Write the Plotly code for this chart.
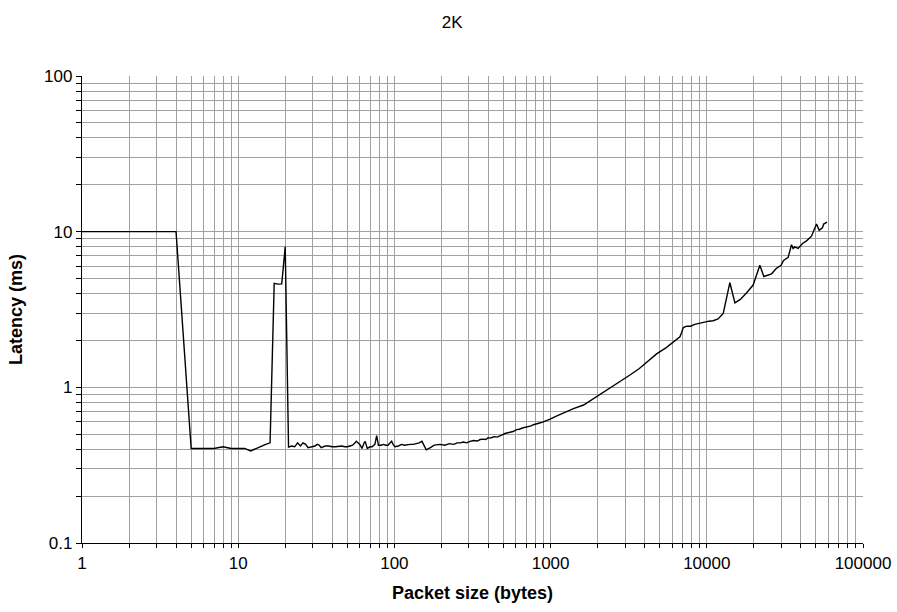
import plotly.graph_objects as go

packet_size = [1, 2, 3, 4, 5, 6, 7, 8, 9, 10, 11, 12, 13, 14, 15, 16, 17, 18, 19, 20,
               21, 22, 23, 24, 25, 26, 27, 28, 29, 30, 31, 32, 33, 34, 35, 36, 38, 40, 42, 44,
               46, 48, 50, 52, 54, 56, 57, 60, 62, 64, 65, 67, 70, 72, 75, 77, 79, 82, 85, 88,
               91, 94, 96, 98, 101, 106, 111, 116, 121, 126, 132, 138, 144, 150, 160, 170, 180, 196, 210, 225,
               240, 252, 264, 276, 290, 305, 320, 340, 354, 370, 385, 398, 410, 425, 440, 455, 472, 490, 510, 530,
               550, 575, 606, 630, 660, 690, 720, 750, 776, 810, 850, 890, 930, 993, 1080, 1150, 1261, 1400, 1625, 1973,
               2284, 2700, 3222, 3700, 4120, 4770, 5500, 6100, 6730, 6900, 7070, 7440, 7870, 8360, 9200, 10330, 10990, 11800, 12740, 14050,
               15140, 16390, 18000, 19800, 21860, 23190, 25990, 27910, 29900, 31000, 33200, 34860, 35700, 36550, 38400, 41000, 43500, 46800, 50400, 52400,
               55000, 56000, 58900]

latency_ms = [10, 10, 10, 10, 0.405, 0.405, 0.405, 0.415, 0.405, 0.405, 0.405, 0.39, 0.405, 0.415, 0.43, 0.44, 4.65, 4.6, 4.62, 8.0,
              0.413, 0.42, 0.415, 0.44, 0.42, 0.44, 0.43, 0.41, 0.415, 0.42, 0.42, 0.43, 0.425, 0.41, 0.415, 0.42, 0.42, 0.415, 0.415, 0.42,
              0.42, 0.415, 0.415, 0.42, 0.425, 0.44, 0.45, 0.43, 0.405, 0.44, 0.45, 0.405, 0.415, 0.415, 0.43, 0.49, 0.425, 0.425, 0.43, 0.425,
              0.425, 0.44, 0.45, 0.43, 0.415, 0.42, 0.43, 0.425, 0.43, 0.43, 0.43, 0.435, 0.44, 0.45, 0.397, 0.41, 0.425, 0.43, 0.425, 0.435,
              0.43, 0.44, 0.44, 0.445, 0.44, 0.45, 0.455, 0.452, 0.462, 0.465, 0.462, 0.475, 0.472, 0.478, 0.482, 0.479, 0.49, 0.495, 0.505, 0.51,
              0.515, 0.52, 0.535, 0.538, 0.548, 0.552, 0.56, 0.565, 0.575, 0.58, 0.59, 0.598, 0.606, 0.625, 0.65, 0.67, 0.70, 0.73, 0.77, 0.87,
              0.96, 1.06, 1.20, 1.32, 1.44, 1.64, 1.80, 1.95, 2.11, 2.25, 2.42, 2.47, 2.47, 2.54, 2.6, 2.66, 2.68, 2.75, 2.98, 4.7,
              3.49, 3.67, 4.05, 4.54, 6.08, 5.15, 5.36, 5.81, 6.08, 6.53, 6.85, 8.25, 7.8, 7.98, 7.8, 8.4, 8.73, 9.35, 11.2, 10.2,
              10.6, 11.2, 11.5]

x_major = [1, 10, 100, 1000, 10000, 100000]
x_major_text = ["1", "10", "100", "1000", "10000", "100000"]
y_major = [0.1, 1, 10, 100]
y_major_text = ["0.1", "1", "10", "100"]
mantissas = [1, 2, 3, 4, 5, 6, 7, 8, 9]


def log_ticks(majors, labels):
    vals, texts = [], []
    for i, m in enumerate(majors):
        vals.append(m)
        texts.append(labels[i])
        if i < len(majors) - 1:
            for k in mantissas[1:]:
                vals.append(m * k)
                texts.append("")
    return vals, texts


x_vals, x_text = log_ticks(x_major, x_major_text)
y_vals, y_text = log_ticks(y_major, y_major_text)

font = "Liberation Sans, Arial, sans-serif"
grid = "#a0a0a0"

fig = go.Figure()
fig.add_trace(go.Scatter(x=packet_size, y=latency_ms, mode="lines",
                         line=dict(color="black", width=1.4), showlegend=False))

fig.update_layout(
    width=897, height=612,
    margin=dict(l=82, r=34, t=76, b=69),
    paper_bgcolor="white", plot_bgcolor="white",
    font=dict(family=font, size=17, color="black"),
    title=dict(text="2K", x=0.504, xref="container", y=0.964, yref="container",
               xanchor="center", yanchor="middle", font=dict(size=17, family=font)),
)

fig.update_xaxes(
    type="log", range=[0, 5], automargin=False,
    tickmode="array", tickvals=x_vals, ticktext=x_text,
    showgrid=True, gridcolor=grid, gridwidth=1,
    ticks="outside", ticklen=4, tickcolor="black",
    showline=True, linecolor="black", linewidth=1.3,
    zeroline=False,
    title=dict(text="<b>Packet size (bytes)</b>", font=dict(size=18, family=font), standoff=14),
    tickfont=dict(size=17),
)
fig.update_yaxes(
    type="log", range=[-1, 2], automargin=False,
    tickmode="array", tickvals=y_vals, ticktext=y_text,
    showgrid=True, gridcolor=grid, gridwidth=1,
    ticks="outside", ticklen=5, tickcolor="black",
    showline=True, linecolor="black", linewidth=1.3,
    zeroline=False,
    title=dict(text="<b>Latency (ms)</b>", font=dict(size=18, family=font), standoff=16),
    tickfont=dict(size=17),
)

fig.write_html("out.html")
